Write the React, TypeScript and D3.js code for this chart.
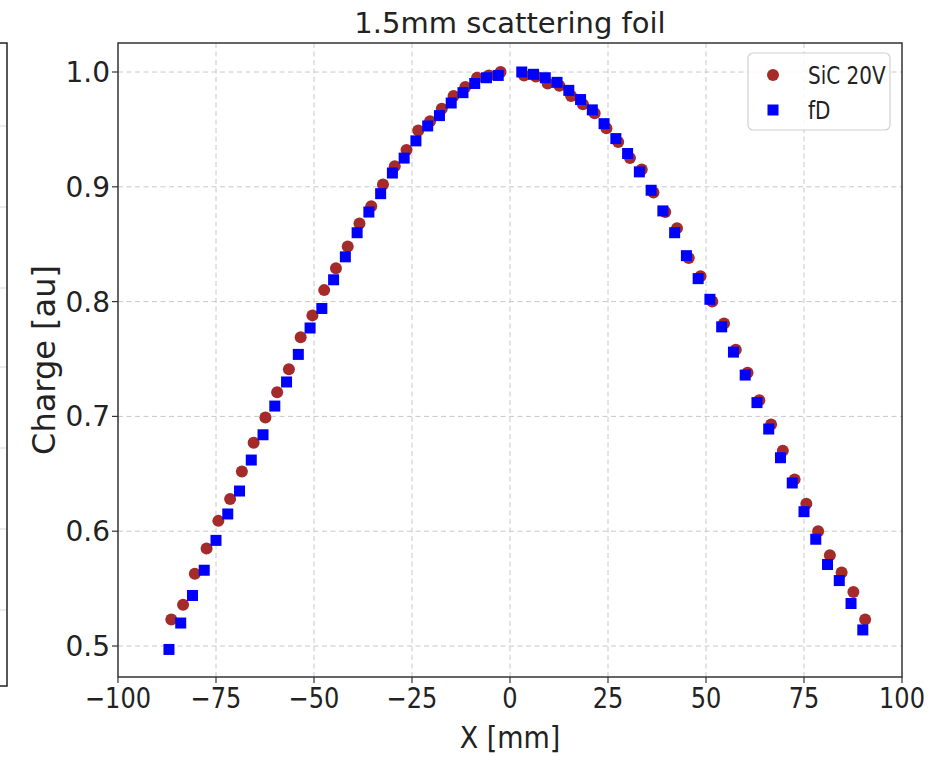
import React from "react";
import * as d3 from "d3";

// fD measurements (blue squares)
const fdX = [
  -87, -84, -81, -78, -75, -72, -69, -66, -63, -60, -57, -54, -51, -48, -45,
  -42, -39, -36, -33, -30, -27, -24, -21, -18, -15, -12, -9, -6, -3,
  3, 6, 9, 12, 15, 18, 21, 24, 27, 30, 33, 36, 39, 42, 45, 48, 51, 54, 57,
  60, 63, 66, 69, 72, 75, 78, 81, 84, 87, 90,
];
const fdY = [
  0.497, 0.52, 0.544, 0.566, 0.592, 0.615, 0.635, 0.662, 0.684, 0.709, 0.73,
  0.754, 0.777, 0.794, 0.819, 0.839, 0.86, 0.878, 0.894, 0.912, 0.925, 0.94,
  0.953, 0.962, 0.973, 0.982, 0.99, 0.995, 0.997,
  1.0, 0.998, 0.995, 0.991, 0.984, 0.976, 0.967, 0.955, 0.942, 0.929, 0.913,
  0.897, 0.879, 0.86, 0.84, 0.82, 0.802, 0.778, 0.756, 0.736, 0.712, 0.689,
  0.664, 0.642, 0.617, 0.593, 0.571, 0.557, 0.537, 0.514,
];

// SiC 20V measurements (brown circles)
const sicX = [
  -86.4, -83.4, -80.4, -77.4, -74.4, -71.4, -68.4, -65.4, -62.4, -59.4, -56.4,
  -53.4, -50.4, -47.4, -44.4, -41.4, -38.4, -35.4, -32.4, -29.4, -26.4, -23.4,
  -20.4, -17.4, -14.4, -11.4, -8.4, -5.4, -2.4,
  3.6, 6.6, 9.6, 12.6, 15.6, 18.6, 21.6, 24.6, 27.6, 30.6, 33.6, 36.6, 39.6,
  42.6, 45.6, 48.6, 51.6, 54.6, 57.6, 60.6, 63.6, 66.6, 69.6, 72.6, 75.6,
  78.6, 81.6, 84.6, 87.6, 90.6,
];
const sicY = [
  0.523, 0.536, 0.563, 0.585, 0.609, 0.628, 0.652, 0.677, 0.699, 0.721, 0.741,
  0.769, 0.788, 0.81, 0.829, 0.848, 0.868, 0.883, 0.902, 0.918, 0.932, 0.949,
  0.957, 0.968, 0.979, 0.987, 0.995, 0.997, 1.0,
  0.997, 0.996, 0.99, 0.988, 0.979, 0.972, 0.964, 0.951, 0.939, 0.925, 0.915,
  0.895, 0.878, 0.864, 0.838, 0.822, 0.8, 0.781, 0.758, 0.738, 0.714, 0.693,
  0.67, 0.645, 0.624, 0.6, 0.579, 0.564, 0.547, 0.523,
];

const xTicks = [-100, -75, -50, -25, 0, 25, 50, 75, 100];
const yTicks = [0.5, 0.6, 0.7, 0.8, 0.9, 1.0];
const seriesNames = ["SiC 20V", "fD"];

const W = 942;
const H = 757;
const left = 118;
const right = 902;
const top = 43;
const bottom = 677;

const FONT = "DejaVu Sans, sans-serif";
const SIC_COLOR = "#a52a2a";
const FD_COLOR = "#0000ff";

export default function App() {
  const x = d3.scaleLinear().domain([-100, 100]).range([left, right]);
  const y = d3.scaleLinear().domain([0.5, 1.0]).range([646, 72]);
  const fmtX = (v: number) => (v < 0 ? "\u2212" + Math.abs(v) : String(v));
  const fmtY = d3.format(".1f");
  const sq = 11;

  return (
    <svg
      width={W}
      height={H}
      style={{ position: "absolute", left: 0, top: 0, background: "#fff" }}
      fontFamily={FONT}
    >
      <rect width={W} height={H} fill="#fff" />

      {/* neighbouring panel edge */}
      <g>
        {[126, 207, 288, 367, 448, 529, 610].map((gy) => (
          <line key={gy} x1={0} x2={7} y1={gy} y2={gy} stroke="#d8d8d8" strokeWidth={1} />
        ))}
        <rect x={-2} y={43} width={9} height={643} fill="none" stroke="#222" strokeWidth={1.5} />
      </g>

      {/* grid */}
      <g stroke="#c8c8c8" strokeWidth={1} strokeDasharray="5,3.5">
        {xTicks.slice(1, -1).map((t) => (
          <line key={"gx" + t} x1={x(t)} x2={x(t)} y1={top} y2={bottom} />
        ))}
        {yTicks.map((t) => (
          <line key={"gy" + t} x1={left} x2={right} y1={y(t)} y2={y(t)} />
        ))}
      </g>

      {/* points */}
      <g fill={SIC_COLOR}>
        {sicX.map((v, i) => (
          <circle key={"s" + i} cx={x(v)} cy={y(sicY[i])} r={6} />
        ))}
      </g>
      <g fill={FD_COLOR}>
        {fdX.map((v, i) => (
          <rect key={"f" + i} x={x(v) - sq / 2} y={y(fdY[i]) - sq / 2} width={sq} height={sq} />
        ))}
      </g>

      {/* frame */}
      <rect
        x={left}
        y={top}
        width={right - left}
        height={bottom - top}
        fill="none"
        stroke="#333"
        strokeWidth={1.5}
      />

      {/* x axis */}
      <g>
        {xTicks.map((t) => (
          <g key={"xt" + t} transform={`translate(${x(t)},${bottom})`}>
            <line y1={0} y2={6} stroke="#333" strokeWidth={1.2} />
            <text
              y={31}
              textAnchor="middle"
              fontSize={28}
              fill="#222"
              transform="scale(0.86,1)"
            >
              {fmtX(t)}
            </text>
          </g>
        ))}
        <text
          transform={`translate(${x(0)},748) scale(0.9,1)`}
          textAnchor="middle"
          fontSize={30}
          fill="#222"
        >
          X [mm]
        </text>
      </g>

      {/* y axis */}
      <g>
        {yTicks.map((t) => (
          <g key={"yt" + t} transform={`translate(${left},${y(t)})`}>
            <line x1={-6} x2={0} stroke="#333" strokeWidth={1.2} />
            <text x={-8} dy="0.36em" textAnchor="end" fontSize={28} fill="#222">
              {fmtY(t)}
            </text>
          </g>
        ))}
        <text
          transform={`translate(55,${(top + bottom) / 2}) rotate(-90)`}
          textAnchor="middle"
          fontSize={32}
          fill="#222"
        >
          Charge [au]
        </text>
      </g>

      {/* title */}
      <text x={x(0)} y={33} textAnchor="middle" fontSize={29} fill="#222">
        1.5mm scattering foil
      </text>

      {/* legend */}
      <g>
        <rect x={748} y={53} width={142} height={77} rx={5} fill="#fff" fillOpacity={0.85} stroke="#d0d0d0" strokeWidth={1.2} />
        <circle cx={773} cy={75} r={6} fill={SIC_COLOR} />
        <rect x={773 - sq / 2} y={110 - sq / 2} width={sq} height={sq} fill={FD_COLOR} />
        <text transform="translate(808,84) scale(0.8,1)" fontSize={25} fill="#222">
          {seriesNames[0]}
        </text>
        <text transform="translate(808,119) scale(0.8,1)" fontSize={25} fill="#222">
          {seriesNames[1]}
        </text>
      </g>
    </svg>
  );
}
